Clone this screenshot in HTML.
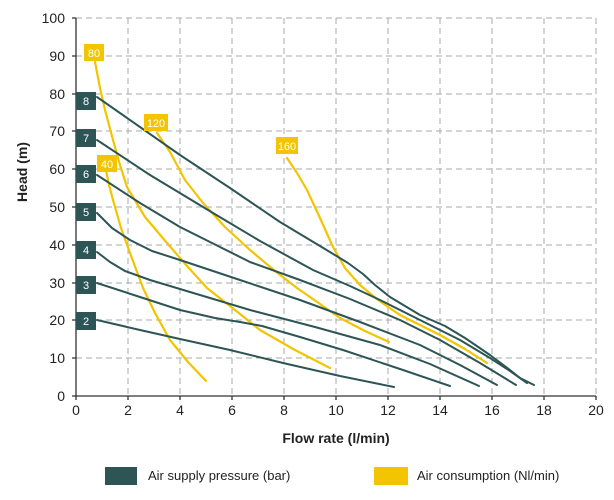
<!DOCTYPE html>
<html><head><style>body{margin:0;background:#fff}svg{display:block;font-family:"Liberation Sans",sans-serif}</style></head><body>
<svg width="614" height="500" viewBox="0 0 614 500">
<g stroke="#aaa" stroke-width="1" stroke-dasharray="6,4" fill="none">
<path d="M76 18H596M76 56H596M76 94H596M76 131H596M76 169H596M76 207H596M76 245H596M76 283H596M76 320H596M76 358H596"/>
<path d="M128 18V396M180 18V396M232 18V396M284 18V396M336 18V396M388 18V396M440 18V396M492 18V396M544 18V396M596 18V396"/>
</g>
<path d="M76 18V396H596" stroke="#333" stroke-width="1.3" fill="none"/>
<g stroke="#333" stroke-width="1.3"><path d="M72 18H76M72 56H76M72 94H76M72 131H76M72 169H76M72 207H76M72 245H76M72 283H76M72 320H76M72 358H76M72 396H76"/><path d="M76 396V400M128 396V400M180 396V400M232 396V400M284 396V400M336 396V400M388 396V400M440 396V400M492 396V400M544 396V400M596 396V400"/></g>
<g font-size="14" fill="#222" text-anchor="end">
<text x="65" y="23">100</text><text x="65" y="61">90</text><text x="65" y="99">80</text><text x="65" y="136">70</text><text x="65" y="174">60</text><text x="65" y="212">50</text><text x="65" y="250">40</text><text x="65" y="288">30</text><text x="65" y="325">20</text><text x="65" y="363">10</text><text x="65" y="401">0</text>
</g>
<g font-size="14" fill="#222" text-anchor="middle">
<text x="76" y="415">0</text><text x="128" y="415">2</text><text x="180" y="415">4</text><text x="232" y="415">6</text><text x="284" y="415">8</text><text x="336" y="415">10</text><text x="388" y="415">12</text><text x="440" y="415">14</text><text x="492" y="415">16</text><text x="544" y="415">18</text><text x="596" y="415">20</text>
</g>
<text x="336" y="443" font-size="14" font-weight="bold" text-anchor="middle" fill="#222">Flow rate (l/min)</text>
<text transform="translate(27,172) rotate(-90)" font-size="14" font-weight="bold" text-anchor="middle" fill="#222">Head (m)</text>
<g fill="none" stroke="#f2c500" stroke-width="2.2" stroke-linecap="round" stroke-linejoin="round">
<polyline points="95,62 100,88 105,110 113,140 120,165 127,187 145,217 167,243 187,266 207,288 230,306 260,330 295,350 330,368"/>
<polyline points="106,170 109,185 113,200 121,228 130,253 143,288 155,313 170,340 188,362 206,381"/>
<polyline points="157,133 170,152 185,180 203,203 225,227 250,250 275,271 297,288 320,304 340,318 365,331 389,342"/>
<polyline points="287,158 297,173 307,190 320,218 333,247 345,268 360,285 378,300 400,315 440,335 465,349 487,363"/>
</g>
<g fill="none" stroke="#2d5556" stroke-width="2" stroke-linecap="round" stroke-linejoin="round">
<polyline points="97,97 140,127 180,155 230,188 280,222 320,246 348,263 363,274 375,285 390,297 420,315 445,326 465,338 490,355 510,370 520,378 534,385"/>
<polyline points="97,140 150,175 213,213 260,241 313,270 350,286 380,300 420,320 460,340 490,358 510,371 527,383"/>
<polyline points="97,175 140,203 180,227 220,247 250,262 300,280 350,299 400,320 440,340 480,363 516,385"/>
<polyline points="97,213 112,228 130,240 152,251 180,260 240,280 300,300 360,322 420,345 460,365 497,385"/>
<polyline points="97,252 110,262 125,271 150,280 200,295 250,310 315,327 380,345 430,364 479,386"/>
<polyline points="97,283 140,297 180,310 215,318 240,322 262,326 300,337 343,350 400,369 450,386"/>
<polyline points="97,320 140,330 180,339 230,350 283,363 340,376 394,387"/>
</g>
<g fill="#2d5556"><rect x="76" y="92" width="20" height="18"/><rect x="76" y="129" width="20" height="18"/><rect x="76" y="165" width="20" height="18"/><rect x="76" y="203" width="20" height="18"/><rect x="76" y="241" width="20" height="18"/><rect x="76" y="276" width="20" height="18"/><rect x="76" y="312" width="20" height="18"/></g>
<g fill="#fff" font-size="11" text-anchor="middle"><text x="86" y="105">8</text><text x="86" y="142">7</text><text x="86" y="178">6</text><text x="86" y="216">5</text><text x="86" y="254">4</text><text x="86" y="289">3</text><text x="86" y="325">2</text></g>
<g fill="#f2c500"><rect x="84" y="44" width="20" height="17"/><rect x="144" y="114" width="24" height="17"/><rect x="97" y="155" width="20" height="17"/><rect x="276" y="137" width="22" height="17"/></g>
<g fill="#fff" font-size="11" text-anchor="middle"><text x="94" y="57">80</text><text x="156" y="127">120</text><text x="107" y="168">40</text><text x="287" y="150">160</text></g>
<rect x="105" y="467" width="32" height="18" fill="#2d5556"/>
<text x="148" y="480" font-size="13" fill="#222">Air supply pressure (bar)</text>
<rect x="374" y="467" width="34" height="18" fill="#f2c500"/>
<text x="417" y="480" font-size="13" fill="#222">Air consumption (Nl/min)</text>
</svg>
</body></html>
